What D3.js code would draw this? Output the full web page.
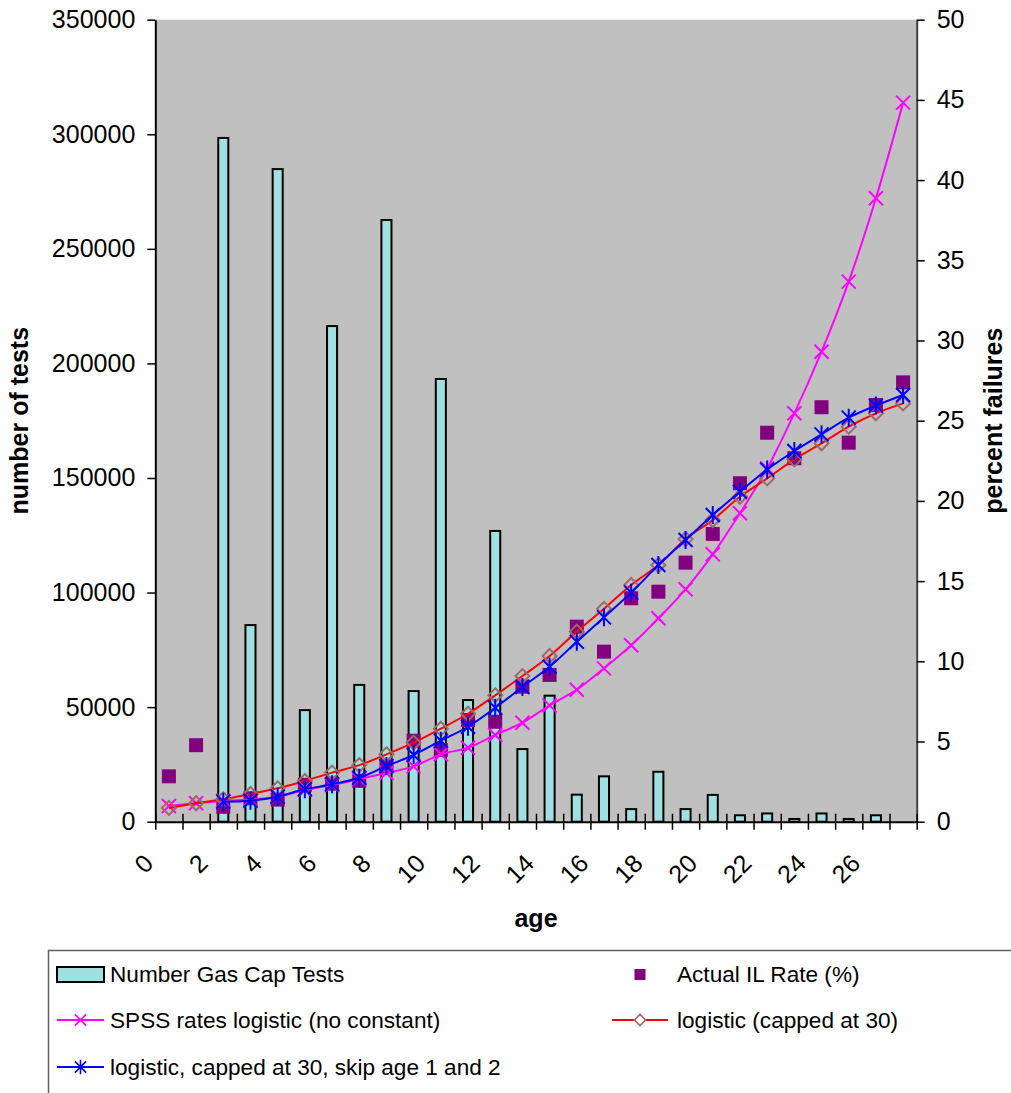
<!DOCTYPE html>
<html>
<head>
<meta charset="utf-8">
<script src="https://cdn.jsdelivr.net/npm/d3@7"></script>
<style>
  body { margin: 0; background: #fff; }
  svg text { font-family: "Liberation Sans", Arial, sans-serif; fill: #000; }
</style>
</head>
<body>
<svg id="chart" width="1011" height="1093"></svg>
<script>
// data
const ages = [0, 1, 2, 3, 4, 5, 6, 7, 8, 9, 10, 11, 12, 13, 14, 15, 16, 17, 18, 19, 20, 21, 22, 23, 24, 25, 26, 27];
const xTickLabels = [0, 2, 4, 6, 8, 10, 12, 14, 16, 18, 20, 22, 24, 26];
const leftTicks = [0, 50000, 100000, 150000, 200000, 250000, 300000, 350000];
const rightTicks = [0, 5, 10, 15, 20, 25, 30, 35, 40, 45, 50];

const gasCapTests = [0, 0, 298400, 85800, 284800, 48700, 216300, 59700, 262600, 57000, 193200, 53100, 126900, 31700,
    55000, 11800, 19800, 5500, 21800, 5500, 11700, 2800, 3600, 1200, 3600, 1200, 2800, 0];
const actualRate = [2.83, 4.77, 0.93, 1.46, 1.38, 2.3, 2.37, 2.55, 3.45, 5.05, 4.47, 6.34, 6.23, 8.42,
    9.15, 12.16, 10.6, 13.93, 14.34, 16.15, 17.94, 21.1, 24.25, 22.66, 25.84, 23.63, 25.98, 27.39];
const spssRate = [0.98, 1.15, 1.31, 1.38, 1.56, 1.98, 2.29, 2.66, 3.04, 3.45, 4.2, 4.61, 5.41, 6.17,
    7.25, 8.23, 9.56, 11.0, 12.68, 14.49, 16.67, 19.23, 22.03, 25.46, 29.3, 33.67, 38.87, 44.83];
const cappedRate = [0.86, 1.15, 1.4, 1.73, 2.08, 2.54, 3.06, 3.53, 4.2, 4.93, 5.8, 6.73, 7.88, 9.08,
    10.33, 11.85, 13.27, 14.76, 16.0, 17.62, 18.81, 20.26, 21.4, 22.59, 23.59, 24.63, 25.46, 26.08];
const skipRate = [null, null, 1.25, 1.31, 1.56, 2.02, 2.33, 2.74, 3.47, 4.16, 5.05, 5.92, 7.1, 8.4,
    9.66, 11.22, 12.74, 14.28, 16.0, 17.56, 19.12, 20.57, 21.95, 23.11, 24.15, 25.19, 25.94, 26.6];

const svg = d3.select("svg#chart");
const plotLeft = 155.3, plotRight = 916.7, plotTop = 19.7, plotBottom = 821.7;

const x = d3.scaleBand().domain(ages).range([plotLeft, plotRight]).padding(0);
const xEdge = d3.scaleLinear().domain([0, ages.length]).range([plotLeft, plotRight]);
const yL = d3.scaleLinear().domain([0, 350000]).range([plotBottom, plotTop]);
const yR = d3.scaleLinear().domain([0, 50]).range([plotBottom, plotTop]);
const cx = a => x(a) + x.bandwidth() / 2;

// plot area
svg.append("rect")
    .attr("x", plotLeft).attr("y", plotTop)
    .attr("width", plotRight - plotLeft).attr("height", plotBottom - plotTop)
    .attr("fill", "#c0c0c0");

// bars
const barW = x.bandwidth() * 0.37;
svg.append("g")
    .selectAll("rect")
    .data(ages.filter((a, i) => gasCapTests[i] > 0))
    .enter().append("rect")
    .attr("x", a => cx(a) - barW / 2)
    .attr("y", a => yL(gasCapTests[a]))
    .attr("width", barW)
    .attr("height", a => plotBottom - yL(gasCapTests[a]))
    .attr("fill", "#a0e0e0")
    .attr("stroke", "#000")
    .attr("stroke-width", 2);

// axes
const axL = svg.append("g")
    .attr("transform", `translate(${plotLeft},0)`)
    .call(d3.axisLeft(yL).tickValues(leftTicks).tickFormat(d3.format("d"))
        .tickSize(8).tickSizeOuter(0).tickPadding(12));
const axR = svg.append("g")
    .attr("transform", `translate(${plotRight},0)`)
    .call(d3.axisRight(yR).tickValues(rightTicks).tickSize(8).tickSizeOuter(0).tickPadding(12));
const axB = svg.append("g")
    .attr("transform", `translate(0,${plotBottom})`)
    .call(d3.axisBottom(xEdge).tickValues(d3.range(0, ages.length + 1)).tickSize(8).tickSizeOuter(0).tickFormat(""));
axB.selectAll(".tick line").attr("y1", -8);

[axL, axR, axB].forEach(g => {
    g.selectAll("text").attr("font-size", 25).attr("font-family", "Liberation Sans, Arial, sans-serif").attr("fill", "#000");
    g.selectAll("line").attr("stroke", "#000").attr("stroke-width", 1.5);
    g.select(".domain").attr("stroke", "#000").attr("stroke-width", 2);
});
axR.select(".domain").attr("stroke", "#404040");

// x labels, rotated
svg.append("g")
    .selectAll("text")
    .data(xTickLabels)
    .enter().append("text")
    .attr("transform", a => `translate(${cx(a) - 14},865) rotate(-45)`)
    .attr("text-anchor", "end")
    .attr("font-size", 25)
    .text(a => a);

// marker shapes
const shapes = {
    cross: "M-7,-7L7,7M-7,7L7,-7",
    star: "M-7,-7L7,7M-7,7L7,-7M0,-9L0,9",
    diamond: "M0,-7L7,0L0,7L-7,0Z"
};

// actual rate squares
svg.append("g")
    .selectAll("rect")
    .data(ages)
    .enter().append("rect")
    .attr("x", a => cx(a) - 7)
    .attr("y", a => yR(actualRate[a]) - 7)
    .attr("width", 14).attr("height", 14)
    .attr("fill", "#800080");

function drawSeries(values, color, shape, markerColor, markerFill) {
    const pts = ages.filter(a => values[a] !== null);
    const line = d3.line()
        .x(a => cx(a))
        .y(a => yR(values[a]))
        .curve(d3.curveCatmullRom.alpha(0.5));
    svg.append("path")
        .datum(pts)
        .attr("d", line)
        .attr("fill", "none")
        .attr("stroke", color)
        .attr("stroke-width", 2);
    svg.append("g")
        .selectAll("path")
        .data(pts)
        .enter().append("path")
        .attr("transform", a => `translate(${cx(a)},${yR(values[a])})`)
        .attr("d", shapes[shape])
        .attr("fill", markerFill)
        .attr("stroke", markerColor)
        .attr("stroke-width", 2);
}

drawSeries(spssRate, "#ff00ff", "cross", "#ff00ff", "none");
drawSeries(cappedRate, "#ff0000", "diamond", "#a06868", "none");
drawSeries(skipRate, "#0000ff", "star", "#0000ff", "none");

// axis titles
svg.append("text")
    .attr("x", (plotLeft + plotRight) / 2).attr("y", 927)
    .attr("text-anchor", "middle")
    .attr("font-size", 25).attr("font-weight", "bold")
    .text("age");
svg.append("text")
    .attr("transform", `translate(28,${(plotTop + plotBottom) / 2}) rotate(-90)`)
    .attr("text-anchor", "middle")
    .attr("font-size", 25).attr("font-weight", "bold")
    .text("number of tests");
svg.append("text")
    .attr("transform", `translate(1002,${(plotTop + plotBottom) / 2}) rotate(-90)`)
    .attr("text-anchor", "middle")
    .attr("font-size", 25).attr("font-weight", "bold")
    .text("percent failures");

// legend
const legend = svg.append("g");
legend.append("rect")
    .attr("x", 48.5).attr("y", 950.5)
    .attr("width", 1000).attr("height", 200)
    .attr("fill", "#fff").attr("stroke", "#606060").attr("stroke-width", 1.5);

const legendItems = [
    {label: "Number Gas Cap Tests", kind: "bar", x: 57, y: 974},
    {label: "Actual IL Rate (%)", kind: "square", x: 612, y: 974},
    {label: "SPSS rates logistic (no constant)", kind: "line", color: "#ff00ff", shape: "cross", mcolor: "#ff00ff", x: 57, y: 1020},
    {label: "logistic (capped at 30)", kind: "line", color: "#ff0000", shape: "diamond", mcolor: "#a06868", x: 612, y: 1020},
    {label: "logistic, capped at 30, skip age 1 and 2", kind: "line", color: "#0000ff", shape: "star", mcolor: "#0000ff", x: 57, y: 1067}
];

legendItems.forEach(d => {
    const g = legend.append("g");
    const w = d.x > 300 ? 56 : 47;
    if (d.kind === "bar") {
        g.append("rect").attr("x", d.x).attr("y", d.y - 7).attr("width", w).attr("height", 15)
            .attr("fill", "#a0e0e0").attr("stroke", "#000").attr("stroke-width", 2);
    } else if (d.kind === "square") {
        g.append("rect").attr("x", d.x + w / 2 - 5.5).attr("y", d.y - 5).attr("width", 11).attr("height", 11)
            .attr("fill", "#800080");
    } else {
        g.append("line").attr("x1", d.x).attr("x2", d.x + w).attr("y1", d.y).attr("y2", d.y)
            .attr("stroke", d.color).attr("stroke-width", 2);
        g.append("path").attr("transform", `translate(${d.x + w / 2},${d.y}) scale(0.8)`)
            .attr("d", shapes[d.shape]).attr("fill", "#fff").attr("stroke", d.mcolor).attr("stroke-width", 2);
    }
    g.append("text")
        .attr("x", d.x > 300 ? 677 : 110)
        .attr("y", d.y + 8)
        .attr("font-size", 22.6)
        .text(d.label);
});
</script>
</body>
</html>
